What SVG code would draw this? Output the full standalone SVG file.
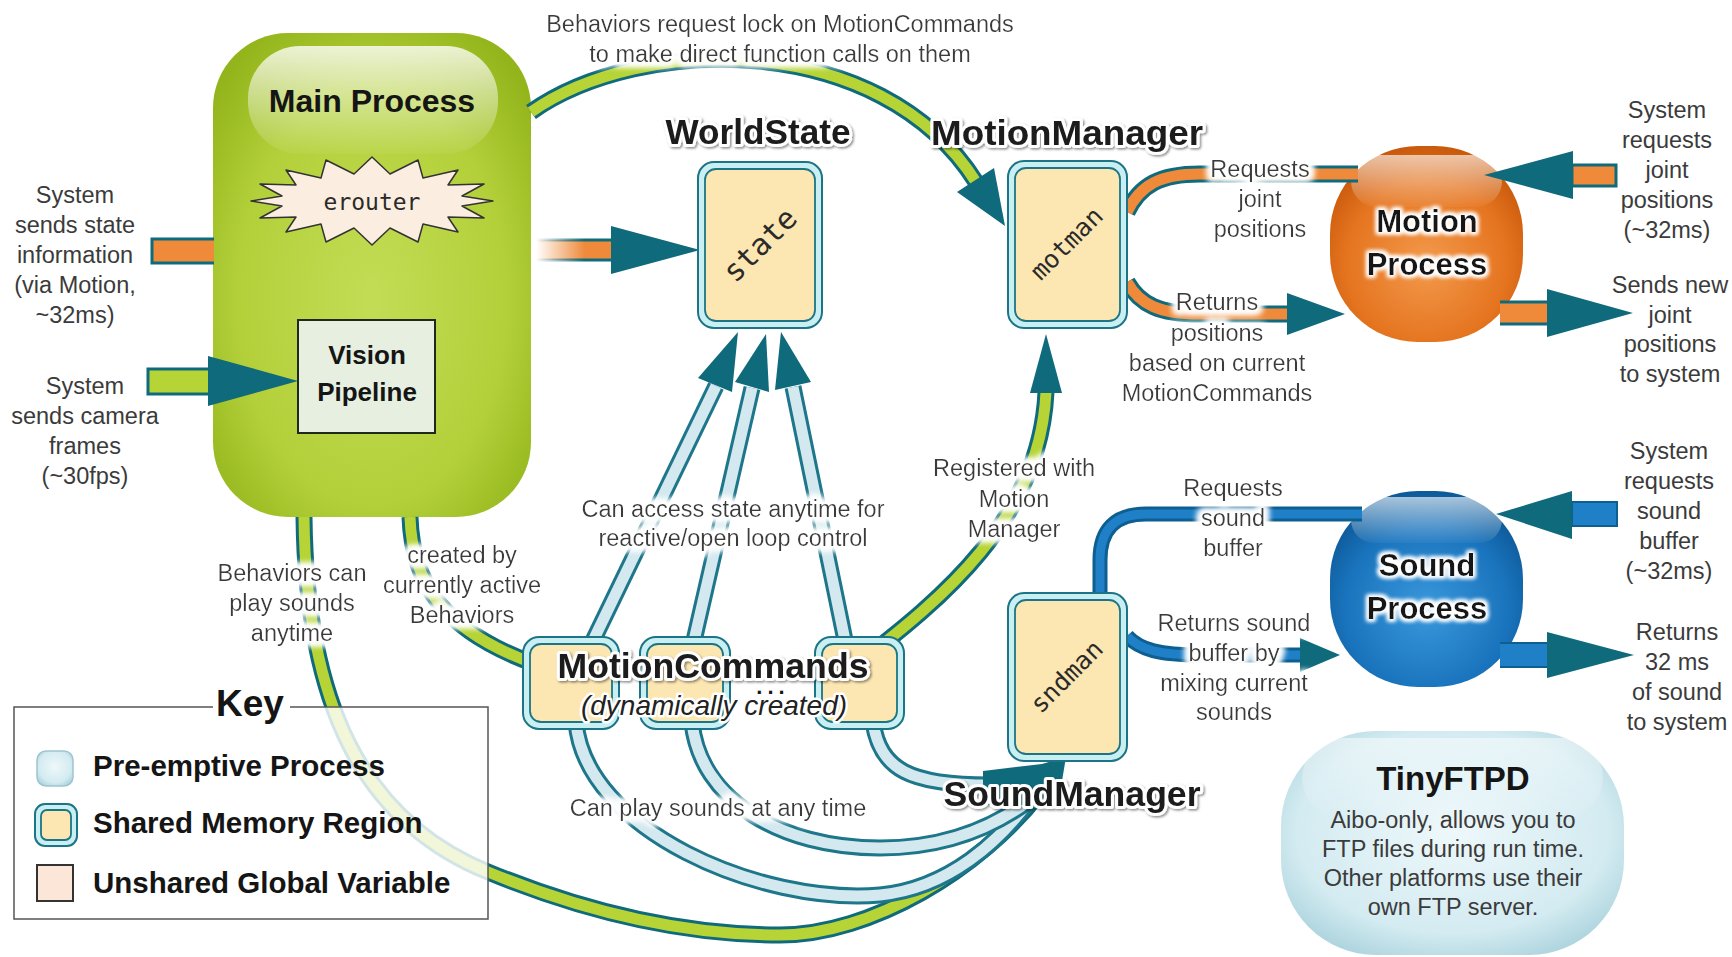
<svg xmlns="http://www.w3.org/2000/svg" width="1732" height="957" viewBox="0 0 1732 957">
<style>
.lbl{font-family:"Liberation Sans",Arial,sans-serif;font-size:23.5px;fill:#3b3b3b;text-anchor:middle}
.ttl{font-family:"Liberation Sans",Arial,sans-serif;font-weight:bold;font-size:35px;fill:#1a1a1a;text-anchor:middle;stroke:#fff;stroke-width:6px;stroke-linejoin:round;paint-order:stroke}
.bold{font-family:"Liberation Sans",Arial,sans-serif;font-weight:bold;fill:#151515}
.mono{font-family:"DejaVu Sans Mono","Liberation Mono",monospace;fill:#2a2a2a;text-anchor:middle}
.to{fill:none;stroke:#0f6a7c;stroke-width:17px}
.lo{fill:none;stroke:#1d768a;stroke-width:17px}
.tg{fill:none;stroke:#b6d436;stroke-width:11px}
.tl{fill:none;stroke:#d3e8ef;stroke-width:11px}
.tor{fill:none;stroke:#ee8a3a;stroke-width:11px}
.bo{fill:none;stroke:#0d5e91;stroke-width:15px}
.bi{fill:none;stroke:#1f80c7;stroke-width:9px}
.hd{fill:#0f6a7c}
.smo{fill:#c9eff2;stroke:#1b7586;stroke-width:2px}
.smi{fill:#fce6b1;stroke:#1b7586;stroke-width:1.8px}
</style>
<defs>
<radialGradient id="gMain" cx="50%" cy="55%" r="65%">
<stop offset="0" stop-color="#c3dd55"/><stop offset="0.65" stop-color="#b3d03a"/><stop offset="1" stop-color="#93b41a"/>
</radialGradient>
<linearGradient id="gGloss" x1="0" y1="0" x2="0" y2="1">
<stop offset="0" stop-color="#fff" stop-opacity="0.8"/><stop offset="1" stop-color="#fff" stop-opacity="0.05"/>
</linearGradient>
<radialGradient id="gOrange" cx="50%" cy="60%" r="60%">
<stop offset="0" stop-color="#f29a4c"/><stop offset="0.7" stop-color="#e5741f"/><stop offset="1" stop-color="#c95a0c"/>
</radialGradient>
<radialGradient id="gBlue" cx="50%" cy="60%" r="60%">
<stop offset="0" stop-color="#3a98dc"/><stop offset="0.7" stop-color="#1a74bd"/><stop offset="1" stop-color="#0d5a99"/>
</radialGradient>
<radialGradient id="gFtp" cx="50%" cy="45%" r="65%">
<stop offset="0" stop-color="#eef8fa"/><stop offset="0.7" stop-color="#d3ebf1"/><stop offset="1" stop-color="#a5cfda"/>
</radialGradient>
<linearGradient id="fadeOr" gradientUnits="userSpaceOnUse" x1="536" y1="0" x2="585" y2="0">
<stop offset="0" stop-color="#ee8a3a" stop-opacity="0"/><stop offset="1" stop-color="#ee8a3a"/>
</linearGradient>
<linearGradient id="fadeTe" gradientUnits="userSpaceOnUse" x1="536" y1="0" x2="585" y2="0">
<stop offset="0" stop-color="#0f6a7c" stop-opacity="0"/><stop offset="1" stop-color="#0f6a7c"/>
</linearGradient>
<filter id="halo" x="-20%" y="-40%" width="140%" height="180%">
<feMorphology in="SourceAlpha" operator="dilate" radius="3" result="d"/>
<feGaussianBlur in="d" stdDeviation="3.5" result="b"/>
<feFlood flood-color="#ffffff"/>
<feComposite in2="b" operator="in" result="w"/>
<feMerge><feMergeNode in="w"/><feMergeNode in="w"/><feMergeNode in="w"/><feMergeNode in="SourceGraphic"/></feMerge>
</filter>
<filter id="halo2" x="-20%" y="-40%" width="140%" height="180%">
<feMorphology in="SourceAlpha" operator="dilate" radius="2" result="d"/>
<feGaussianBlur in="d" stdDeviation="2" result="b"/>
<feFlood flood-color="#ffffff"/>
<feComposite in2="b" operator="in" result="w"/>
<feMerge><feMergeNode in="w"/><feMergeNode in="w"/><feMergeNode in="SourceGraphic"/></feMerge>
</filter>
<filter id="shadow" x="-10%" y="-30%" width="120%" height="160%">
<feDropShadow dx="1.5" dy="1.5" stdDeviation="1.2" flood-color="#000" flood-opacity="0.45"/>
</filter>
<path id="pG1" d="M531,112 C640,35 880,30 976,182"/>
<path id="pG2" d="M304,517 C306,700 360,820 488,872 C590,914 690,935 780,935 C870,935 980,870 1040,792"/>
<path id="pG3" d="M410,517 C412,580 440,630 535,664"/>
<path id="pG4" d="M860,662 C940,600 1040,520 1046,392"/>
<path id="pS1" d="M591,645 L716,386"/>
<path id="pS2" d="M693,645 L752,388"/>
<path id="pS3" d="M846,645 L793,387"/>
<path id="pA1" d="M576,722 C585,830 760,905 880,895 C950,888 1000,840 1030,800"/>
<path id="pA2" d="M692,722 C700,800 780,848 880,848 C940,848 990,830 1030,800"/>
<path id="pA3" d="M873,722 C880,770 910,785 990,785"/>
<path id="pO1" d="M1127,212 C1140,185 1160,174 1200,174 L1358,174"/>
<path id="pO2" d="M1127,282 C1140,305 1160,314 1200,314 L1292,314"/>
<path id="pB1" d="M1100,593 V560 Q1100,514 1146,514 H1362"/>
<path id="pB2" d="M1127,636 C1140,650 1160,655 1200,655 H1302"/>
</defs>

<rect width="1732" height="957" fill="#ffffff"/>

<g id="main-process">
<rect x="213" y="33" width="318" height="484" rx="75" fill="url(#gMain)"/>
<rect x="248" y="46" width="250" height="108" rx="52" fill="url(#gGloss)"/>
<text class="bold" x="372" y="112" font-size="32" text-anchor="middle">Main Process</text>
<g id="erouter">
<polygon points="493,201 462,206 484,218 448,217 458,232 423,224 418,242 390,228 372,245 354,228 326,242 321,224 286,232 296,217 260,218 282,206 251,201 282,196 260,184 296,185 286,170 321,178 326,160 354,174 372,157 390,174 418,160 423,178 458,170 448,185 484,184 462,196" fill="#fbeee0" stroke="#333" stroke-width="1.5" stroke-linejoin="round"/>
<text class="mono" x="372" y="210" font-size="23">erouter</text>
</g>
<g id="vision-pipeline">
<rect x="298" y="320" width="137" height="113" fill="#e6efe0" stroke="#1f2a1f" stroke-width="2"/>
<text class="bold" x="367" y="364" font-size="26" text-anchor="middle" fill="#222">Vision</text>
<text class="bold" x="367" y="401" font-size="26" text-anchor="middle" fill="#222">Pipeline</text>
</g>
</g>

<g id="motion-process">
<rect x="1330" y="146" width="193" height="196" rx="88" fill="url(#gOrange)"/>
<rect x="1351" y="155" width="151" height="52" rx="26" fill="url(#gGloss)" opacity="0.8"/>
<g filter="url(#halo2)">
<text class="bold" x="1427" y="232" font-size="31" text-anchor="middle">Motion</text>
<text class="bold" x="1427" y="275" font-size="31" text-anchor="middle">Process</text>
</g>
</g>

<g id="sound-process">
<rect x="1330" y="491" width="193" height="196" rx="88" fill="url(#gBlue)"/>
<rect x="1351" y="497" width="151" height="46" rx="23" fill="url(#gGloss)" opacity="0.8"/>
<g filter="url(#halo2)">
<text class="bold" x="1427" y="576" font-size="31" text-anchor="middle">Sound</text>
<text class="bold" x="1427" y="619" font-size="31" text-anchor="middle">Process</text>
</g>
</g>

<g id="tinyftpd">
<rect x="1281" y="731" width="343" height="224" rx="95" fill="url(#gFtp)"/>
<rect x="1302" y="738" width="301" height="80" rx="40" fill="url(#gGloss)" opacity="0.6"/>
<text class="bold" x="1453" y="790" font-size="33" text-anchor="middle">TinyFTPD</text>
<text class="lbl" fill="#333"><tspan x="1453" y="828">Aibo-only,  allows you to</tspan><tspan x="1453" y="857">FTP files during run time.</tspan><tspan x="1453" y="886">Other platforms use their</tspan><tspan x="1453" y="915">own FTP server.</tspan></text>
</g>

<g id="connectors">
<!-- left input arrows -->
<path d="M214,239 H152 V263 H214 Z" fill="#ee8a3a" stroke="none"/>
<path d="M214,239 H152 V263 H214" fill="none" stroke="#0f6a7c" stroke-width="3"/>
<rect x="148" y="369" width="62" height="25" fill="#b6d436" stroke="#0f6a7c" stroke-width="3"/>
<polygon class="hd" points="208,356 298,381 208,406"/>
<!-- main to state -->
<rect x="536" y="240" width="77" height="20" fill="url(#fadeOr)"/>
<path d="M536,240 H613 M536,260 H613" stroke="url(#fadeTe)" stroke-width="3" fill="none"/>
<polygon class="hd" points="611,226 700,250 611,274"/>
<!-- green pipes -->
<use href="#pG2" class="to"/><use href="#pG2" class="tg"/>
<use href="#pG3" class="to"/><use href="#pG3" class="tg"/>
<use href="#pG1" class="to"/><use href="#pG1" class="tg"/>
<polygon class="hd" points="957,192 994,168 1005,226"/>
<use href="#pG4" class="to"/><use href="#pG4" class="tg"/>
<polygon class="hd" points="1030,393 1062,393 1046,334"/>
<!-- light blue to state -->
<use href="#pS1" class="lo"/><use href="#pS1" class="tl"/>
<use href="#pS2" class="lo"/><use href="#pS2" class="tl"/>
<use href="#pS3" class="lo"/><use href="#pS3" class="tl"/>
<polygon class="hd" points="698,378 732,392 738,332"/>
<polygon class="hd" points="735,382 769,392 766,334"/>
<polygon class="hd" points="775,390 811,382 781,332"/>
<!-- light blue to sound manager -->
<use href="#pA1" class="lo"/><use href="#pA1" class="tl"/>
<use href="#pA2" class="lo"/><use href="#pA2" class="tl"/>
<use href="#pA3" class="lo"/><use href="#pA3" class="tl"/>
<polygon class="hd" points="983,771 1042,764 1066,757 1058,805 983,805"/>
<!-- orange pipes -->
<use href="#pO1" class="to"/><use href="#pO1" class="tor"/>
<use href="#pO2" class="to"/><use href="#pO2" class="tor"/>
<polygon class="hd" points="1287,293 1345,314 1287,335"/>
<!-- motion process external -->
<rect x="1572" y="165" width="44" height="21" fill="#ee8a3a" stroke="#0f6a7c" stroke-width="3"/>
<polygon class="hd" points="1573,151 1484,175 1573,199"/>
<path d="M1500,302 H1549 V324 H1500 Z" fill="#ee8a3a"/>
<path d="M1500,302 H1549 M1500,324 H1549" stroke="#0f6a7c" stroke-width="3"/>
<polygon class="hd" points="1547,289 1633,313 1547,337"/>
<!-- blue pipes -->
<use href="#pB1" class="bo"/><use href="#pB1" class="bi"/>
<use href="#pB2" class="bo"/><use href="#pB2" class="bi"/>
<polygon class="hd" points="1300,638 1340,655 1300,672"/>
<rect x="1572" y="502" width="45" height="24" fill="#1f80c7" stroke="#0d5e91" stroke-width="2"/>
<polygon class="hd" points="1572,491 1496,514 1572,539"/>
<path d="M1500,643 H1549 V667 H1500 Z" fill="#1f80c7"/>
<path d="M1500,643 H1549 M1500,667 H1549" stroke="#0d5e91" stroke-width="2"/>
<polygon class="hd" points="1547,632 1634,655 1547,678"/>
<!-- labels -->
<text class="lbl"><tspan x="75" y="203">System</tspan><tspan x="75" y="233">sends state</tspan><tspan x="75" y="263">information</tspan><tspan x="75" y="293">(via Motion,</tspan><tspan x="75" y="323">~32ms)</tspan></text>
<text class="lbl"><tspan x="85" y="394">System</tspan><tspan x="85" y="424">sends camera</tspan><tspan x="85" y="454">frames</tspan><tspan x="85" y="484">(~30fps)</tspan></text>
<text class="lbl" filter="url(#halo)"><tspan x="292" y="581">Behaviors can</tspan><tspan x="292" y="611">play sounds</tspan><tspan x="292" y="641">anytime</tspan></text>
<text class="lbl" filter="url(#halo)"><tspan x="462" y="563">created by</tspan><tspan x="462" y="593">currently active</tspan><tspan x="462" y="623">Behaviors</tspan></text>
<text class="lbl" filter="url(#halo)"><tspan x="780" y="32">Behaviors request lock on MotionCommands</tspan><tspan x="780" y="62">to make direct function calls on them</tspan></text>
<text class="lbl" filter="url(#halo)"><tspan x="1260" y="177">Requests</tspan><tspan x="1260" y="207">joint</tspan><tspan x="1260" y="237">positions</tspan></text>
<text class="lbl" filter="url(#halo)"><tspan x="1217" y="310">Returns</tspan><tspan x="1217" y="341">positions</tspan><tspan x="1217" y="371">based on current</tspan><tspan x="1217" y="401">MotionCommands</tspan></text>
<text class="lbl"><tspan x="1667" y="118">System</tspan><tspan x="1667" y="148">requests</tspan><tspan x="1667" y="178">joint</tspan><tspan x="1667" y="208">positions</tspan><tspan x="1667" y="238">(~32ms)</tspan></text>
<text class="lbl"><tspan x="1670" y="293">Sends new</tspan><tspan x="1670" y="323">joint</tspan><tspan x="1670" y="352">positions</tspan><tspan x="1670" y="382">to system</tspan></text>
<text class="lbl" filter="url(#halo)"><tspan x="733" y="517">Can access state anytime for</tspan><tspan x="733" y="546">reactive/open loop control</tspan></text>
<text class="lbl" filter="url(#halo)"><tspan x="1014" y="476">Registered with</tspan><tspan x="1014" y="507">Motion</tspan><tspan x="1014" y="537">Manager</tspan></text>
<text class="lbl" filter="url(#halo)"><tspan x="1233" y="496">Requests</tspan><tspan x="1233" y="526">sound</tspan><tspan x="1233" y="556">buffer</tspan></text>
<text class="lbl" filter="url(#halo)"><tspan x="1234" y="631">Returns sound</tspan><tspan x="1234" y="661">buffer by</tspan><tspan x="1234" y="691">mixing current</tspan><tspan x="1234" y="720">sounds</tspan></text>
<text class="lbl"><tspan x="1669" y="459">System</tspan><tspan x="1669" y="489">requests</tspan><tspan x="1669" y="519">sound</tspan><tspan x="1669" y="549">buffer</tspan><tspan x="1669" y="579">(~32ms)</tspan></text>
<text class="lbl"><tspan x="1677" y="640">Returns</tspan><tspan x="1677" y="670">32 ms</tspan><tspan x="1677" y="700">of sound</tspan><tspan x="1677" y="730">to system</tspan></text>
<text class="lbl" filter="url(#halo)" x="718" y="816">Can play sounds at any time</text>
</g>

<g id="worldstate">
<rect class="smo" x="698" y="162" width="124" height="166" rx="16"/>
<rect class="smi" x="705" y="169" width="110" height="152" rx="11"/>
<text class="mono" font-size="30" transform="translate(760,245) rotate(-45)" y="10">state</text>
<text class="ttl" x="758" y="144" textLength="185" lengthAdjust="spacingAndGlyphs" filter="url(#shadow)">WorldState</text>
</g>

<g id="motionmanager">
<rect class="smo" x="1008" y="161" width="119" height="167" rx="16"/>
<rect class="smi" x="1015" y="168" width="105" height="153" rx="11"/>
<text class="mono" font-size="25" transform="translate(1067,244) rotate(-45)" y="8">motman</text>
<text class="ttl" x="1067" y="145" textLength="272" lengthAdjust="spacingAndGlyphs" filter="url(#shadow)">MotionManager</text>
</g>

<g id="soundmanager">
<rect class="smo" x="1008" y="593" width="119" height="168" rx="16"/>
<rect class="smi" x="1015" y="600" width="105" height="154" rx="11"/>
<text class="mono" font-size="25" transform="translate(1067,677) rotate(-45)" y="8">sndman</text>
<text class="ttl" x="1072" y="806" textLength="257" lengthAdjust="spacingAndGlyphs" filter="url(#shadow)">SoundManager</text>
</g>

<g id="motioncommands">
<rect class="smo" x="523" y="637" width="96" height="92" rx="16"/>
<rect class="smi" x="530" y="644" width="82" height="78" rx="11"/>
<rect class="smo" x="640" y="637" width="90" height="92" rx="16"/>
<rect class="smi" x="647" y="644" width="76" height="78" rx="11"/>
<rect class="smo" x="815" y="637" width="89" height="92" rx="16"/>
<rect class="smi" x="822" y="644" width="75" height="78" rx="11"/>
<text class="ttl" x="713" y="678" textLength="311" lengthAdjust="spacingAndGlyphs" filter="url(#shadow)">MotionCommands</text>
<text class="bold" x="773" y="694" font-size="22" text-anchor="middle" letter-spacing="5" fill="#222">...</text>
<text x="714" y="715" font-family="Liberation Sans, Arial, sans-serif" font-style="italic" font-size="28" text-anchor="middle" fill="#222" stroke="#fff" stroke-width="5" stroke-linejoin="round" paint-order="stroke">(dynamically created)</text>
</g>

<g id="key">
<rect x="14" y="707" width="474" height="212" fill="#fff" fill-opacity="0.82" stroke="#555" stroke-width="1.5"/>
<rect x="213" y="700" width="77" height="14" fill="#fff"/>
<text class="bold" x="250" y="716" font-size="37" text-anchor="middle" fill="#222">Key</text>
<rect x="37" y="751" width="36" height="35" rx="9" fill="url(#gFtp)" stroke="#9ec5cf" stroke-width="1.5"/>
<rect class="smo" x="35" y="804" width="42" height="42" rx="10"/>
<rect class="smi" x="41" y="810" width="30" height="30" rx="6"/>
<rect x="37" y="865" width="36" height="36" fill="#fbe6d8" stroke="#333" stroke-width="2"/>
<text class="bold" x="93" y="776" font-size="29.5" fill="#2a2a2a">Pre-emptive Process</text>
<text class="bold" x="93" y="833" font-size="29.5" fill="#2a2a2a">Shared Memory Region</text>
<text class="bold" x="93" y="893" font-size="29.5" fill="#2a2a2a">Unshared Global Variable</text>
</g>
</svg>
